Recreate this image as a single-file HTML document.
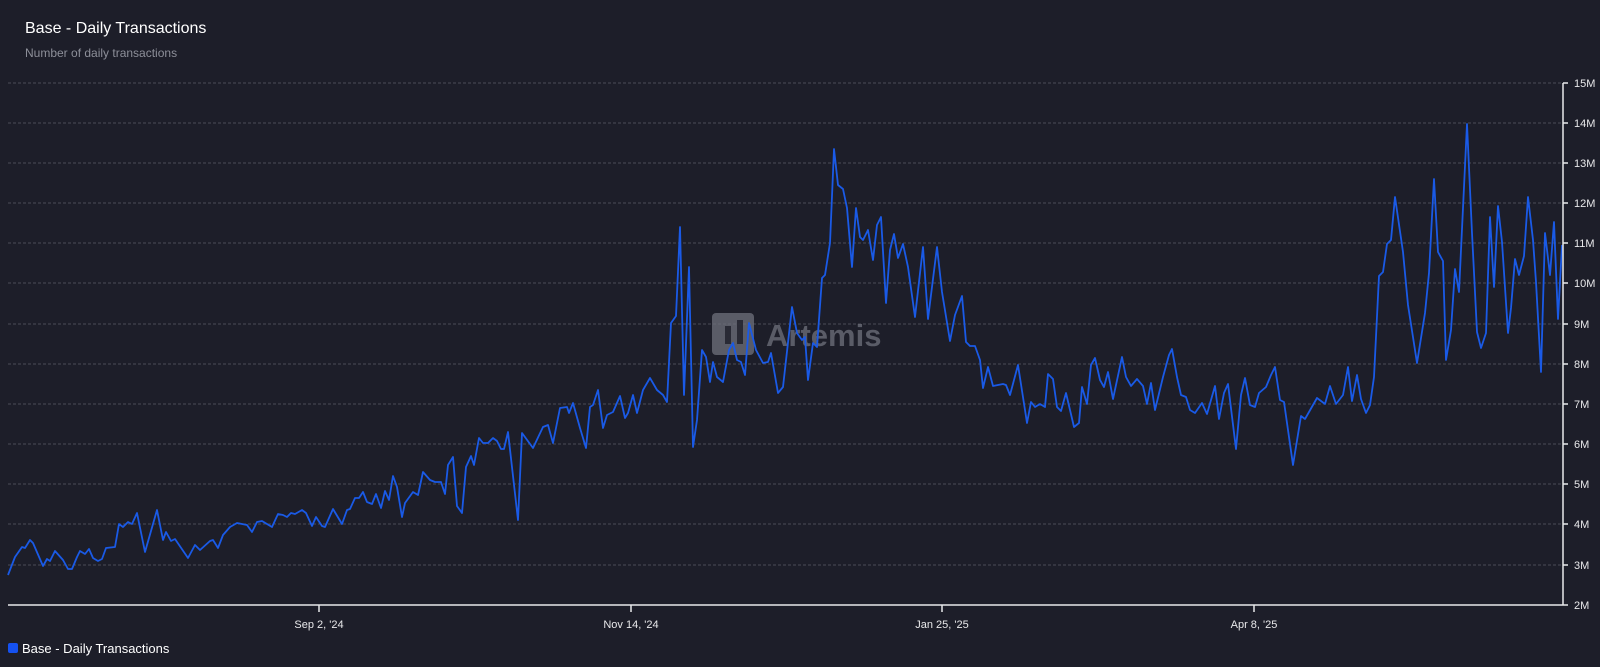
<!DOCTYPE html>
<html><head><meta charset="utf-8"><style>
html,body{margin:0;padding:0;background:#1d1e29;width:1600px;height:667px;overflow:hidden;font-family:"Liberation Sans",Arial,sans-serif}
</style></head><body>
<svg width="1600" height="667" viewBox="0 0 1600 667" xmlns="http://www.w3.org/2000/svg" style="position:absolute;left:0;top:0">
<rect width="1600" height="667" fill="#1d1e29"/>
<text x="25" y="33" fill="#ffffff" font-size="16" font-family="Liberation Sans, sans-serif">Base - Daily Transactions</text>
<text x="25" y="57" fill="#8d8f99" font-size="12" font-family="Liberation Sans, sans-serif">Number of daily transactions</text>
<g stroke="#4a4c58" stroke-width="1" stroke-dasharray="3,2">
<line x1="8" x2="1561" y1="83" y2="83"/><line x1="8" x2="1561" y1="123" y2="123"/><line x1="8" x2="1561" y1="163" y2="163"/><line x1="8" x2="1561" y1="203" y2="203"/><line x1="8" x2="1561" y1="243" y2="243"/><line x1="8" x2="1561" y1="283" y2="283"/><line x1="8" x2="1561" y1="324" y2="324"/><line x1="8" x2="1561" y1="364" y2="364"/><line x1="8" x2="1561" y1="404" y2="404"/><line x1="8" x2="1561" y1="444" y2="444"/><line x1="8" x2="1561" y1="484" y2="484"/><line x1="8" x2="1561" y1="524" y2="524"/><line x1="8" x2="1561" y1="565" y2="565"/>
</g>
<g fill="#6f717c" opacity="0.75">
<rect x="712" y="313" width="42" height="42" rx="4"/>
<text x="766" y="346" font-size="31" font-weight="bold" font-family="Liberation Sans, sans-serif">Artemis</text>
</g>
<rect x="725" y="326" width="6" height="18" fill="#1d1e29" opacity="0.8"/><rect x="737" y="320" width="6" height="24" fill="#1d1e29" opacity="0.8"/>
<polyline fill="none" stroke="#1a5ae6" stroke-width="1.8" stroke-linejoin="round" points="8,575 15,557 22,547 25,548 30,540 33,543 43,566 47,559 50,561 55,551 63,560 68,569 72,569 77,557 80,551 85,554 89,549 93,558 98,561 102,559 106,548 115,547 119,524 123,527 128,522 132,524 137,513 145,552 157,510 163,540 166,532 171,541 175,539 188,558 195,545 200,550 210,541 213,540 218,548 223,535 230,527 237,523 247,525 252,532 257,522 262,521 272,527 278,514 283,515 287,517 291,513 295,514 302,510 306,513 312,526 316,517 322,526 325,527 333,509 342,524 347,510 350,509 355,498 359,498 363,492 367,502 372,504 376,494 381,508 385,491 389,500 393,476 397,487 402,517 405,503 413,492 418,495 423,472 430,480 435,482 441,482 445,494 448,465 453,457 457,506 462,513 466,467 471,456 474,465 479,438 483,443 488,443 493,438 497,441 501,449 504,449 508,432 518,520 522,433 533,448 543,427 548,425 553,443 560,408 567,407 569,413 573,403 580,428 586,448 590,407 593,405 598,390 603,428 607,415 613,412 620,396 625,418 628,413 633,395 637,413 643,390 650,378 657,390 663,395 667,402 671,323 676,316 680,227 684,395 689,267 693,447 697,420 702,350 706,357 710,382 713,362 717,377 723,382 729,350 733,343 737,360 741,362 745,375 749,323 756,350 763,363 768,362 771,353 778,393 783,387 792,307 797,333 802,340 805,337 808,380 813,343 817,347 822,278 825,275 830,243 834,149 838,185 843,189 847,208 852,267 856,208 860,237 863,240 868,230 873,260 877,225 881,217 886,303 890,250 894,234 898,258 903,244 908,267 915,317 923,247 928,319 937,247 942,292 950,341 955,315 962,296 966,342 970,346 975,346 980,360 983,388 988,367 993,386 998,385 1003,384 1006,385 1010,395 1018,365 1027,423 1031,402 1035,407 1040,404 1045,407 1048,374 1053,379 1057,407 1061,411 1066,393 1074,427 1079,423 1082,387 1087,404 1091,365 1095,358 1100,380 1104,387 1108,372 1113,399 1122,357 1126,377 1131,386 1137,379 1143,386 1147,404 1151,383 1155,410 1163,377 1169,355 1172,349 1177,377 1181,395 1186,397 1190,410 1195,413 1202,403 1207,414 1215,386 1219,419 1224,393 1228,384 1236,449 1241,395 1245,378 1250,405 1255,407 1259,393 1266,387 1271,375 1275,367 1280,400 1284,402 1293,465 1301,416 1305,419 1317,398 1325,404 1330,386 1336,404 1343,395 1348,367 1352,401 1357,375 1361,399 1366,413 1370,405 1374,377 1379,276 1383,272 1387,244 1391,240 1395,197 1403,252 1408,305 1417,363 1425,313 1429,273 1434,179 1438,252 1443,261 1446,360 1451,330 1455,269 1459,292 1467,124 1472,233 1477,332 1481,348 1486,333 1490,217 1494,287 1498,206 1502,242 1508,333 1511,308 1515,259 1519,275 1524,256 1528,197 1533,240 1536,282 1541,372 1545,233 1550,275 1554,222 1558,319 1562,245"/>
<g stroke="#e8e8ea" stroke-width="1.5">
<line x1="8" x2="1563" y1="605" y2="605"/>
<line x1="1563" x2="1563" y1="83" y2="605"/>
<line x1="319" x2="319" y1="605" y2="612"/><line x1="631" x2="631" y1="605" y2="612"/><line x1="942" x2="942" y1="605" y2="612"/><line x1="1254" x2="1254" y1="605" y2="612"/>
<line x1="1563" x2="1568" y1="83" y2="83"/><line x1="1563" x2="1568" y1="123" y2="123"/><line x1="1563" x2="1568" y1="163" y2="163"/><line x1="1563" x2="1568" y1="203" y2="203"/><line x1="1563" x2="1568" y1="243" y2="243"/><line x1="1563" x2="1568" y1="283" y2="283"/><line x1="1563" x2="1568" y1="324" y2="324"/><line x1="1563" x2="1568" y1="364" y2="364"/><line x1="1563" x2="1568" y1="404" y2="404"/><line x1="1563" x2="1568" y1="444" y2="444"/><line x1="1563" x2="1568" y1="484" y2="484"/><line x1="1563" x2="1568" y1="524" y2="524"/><line x1="1563" x2="1568" y1="565" y2="565"/><line x1="1563" x2="1568" y1="605" y2="605"/>
</g>
<g fill="#e8e8ea" font-size="11" font-family="Liberation Sans, sans-serif">
<text x="1574" y="87">15M</text><text x="1574" y="127">14M</text><text x="1574" y="167">13M</text><text x="1574" y="207">12M</text><text x="1574" y="247">11M</text><text x="1574" y="287">10M</text><text x="1574" y="328">9M</text><text x="1574" y="368">8M</text><text x="1574" y="408">7M</text><text x="1574" y="448">6M</text><text x="1574" y="488">5M</text><text x="1574" y="528">4M</text><text x="1574" y="569">3M</text><text x="1574" y="609">2M</text>
<text x="319" y="628" text-anchor="middle">Sep 2, '24</text><text x="631" y="628" text-anchor="middle">Nov 14, '24</text><text x="942" y="628" text-anchor="middle">Jan 25, '25</text><text x="1254" y="628" text-anchor="middle">Apr 8, '25</text>
</g>
<rect x="8" y="643" width="10" height="10" rx="2" fill="#1551f0"/>
<text x="22" y="653" fill="#ffffff" font-size="13" font-family="Liberation Sans, sans-serif">Base - Daily Transactions</text>
</svg>
</body></html>
